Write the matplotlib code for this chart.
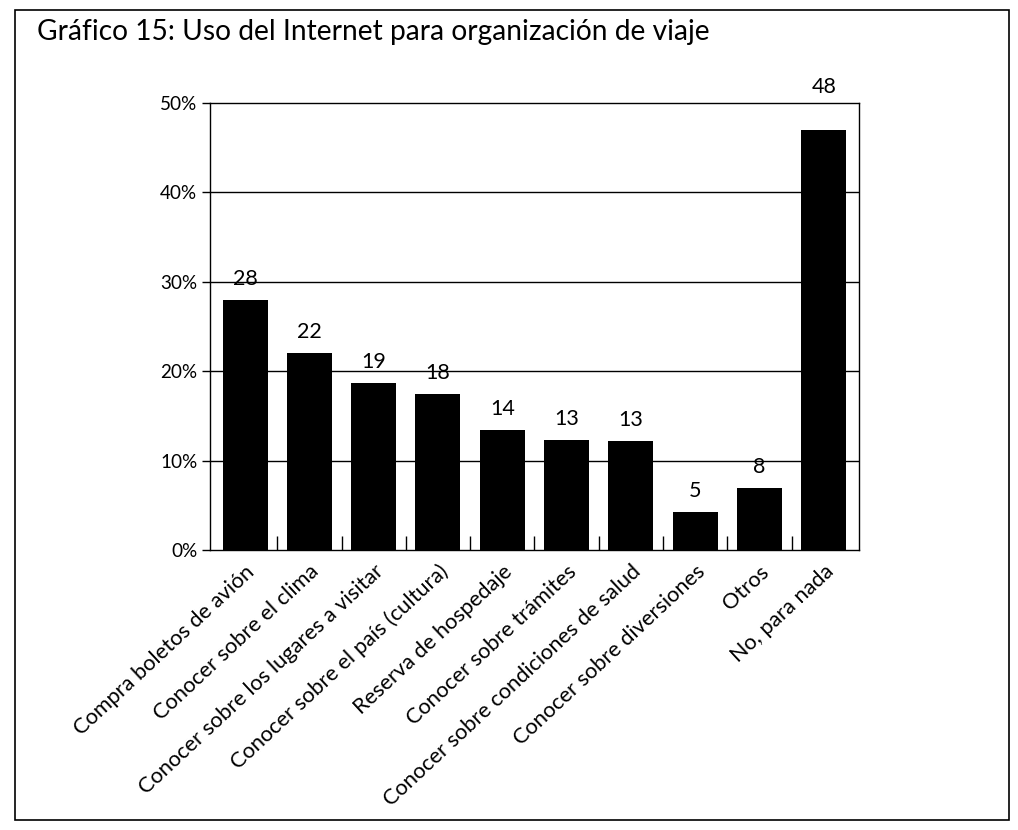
import matplotlib
matplotlib.use("Agg")
import matplotlib.pyplot as plt
from matplotlib.ticker import FixedLocator
from matplotlib.patches import Rectangle

categories = [
    "Compra boletos de avión",
    "Conocer sobre el clima",
    "Conocer sobre los lugares a visitar",
    "Conocer sobre el país (cultura)",
    "Reserva de hospedaje",
    "Conocer sobre trámites",
    "Conocer sobre condiciones de salud",
    "Conocer sobre diversiones",
    "Otros",
    "No, para nada",
]
bar_values = [28.0, 22.0, 18.7, 17.5, 13.4, 12.3, 12.2, 4.3, 7.0, 47.0]
value_labels = ["28", "22", "19", "18", "14", "13", "13", "5", "8", "48"]
y_ticks = [0, 10, 20, 30, 40, 50]
y_tick_labels = ["0%", "10%", "20%", "30%", "40%", "50%"]
title = "Gráfico 15: Uso del Internet para organización de viaje"

plt.rcParams["font.family"] = ["Lato", "DejaVu Sans"]

fig = plt.figure(figsize=(10.18, 8.30), dpi=100)
renderer = fig.canvas.get_renderer()


def fit_size(text, target_px, base=15.0):
    t = fig.text(0, 0, text, fontsize=base)
    w = t.get_window_extent(renderer).width
    t.remove()
    return base * target_px / w


cat_fs = fit_size(categories[6], 345)
title_fs = fit_size(title, 672)
tick_fs = fit_size("50%", 37)

ax = fig.add_axes([0.206, 0.337, 0.638, 0.539])

x = list(range(len(categories)))
ax.bar(x, bar_values, width=0.7, color="black", zorder=3)

ymax = y_ticks[-1]
for xi, v, lab in zip(x, bar_values, value_labels):
    if v > ymax - 6:
        # label would collide with top frame: put it above the frame
        ax.annotate(lab, (xi, ymax), xytext=(0, 4), textcoords="offset points",
                    ha="center", va="bottom", fontsize=15.5, color="black",
                    annotation_clip=False)
    else:
        ax.annotate(lab, (xi, v), xytext=(0, 8), textcoords="offset points",
                    ha="center", va="bottom", fontsize=15.5, color="black")

ax.set_ylim(0, ymax)
ax.set_xlim(-0.55, len(categories) - 0.45)
ax.set_yticks(y_ticks)
ax.set_yticklabels(y_tick_labels, fontsize=tick_fs)
ax.tick_params(axis="y", direction="out", length=6, width=1, pad=3)
for yv in y_ticks[1:-1]:
    ax.axhline(yv, color="black", linewidth=1.0, zorder=1)

ax.set_xticks(x)
ax.set_xticklabels(categories, rotation=43, ha="right", rotation_mode="anchor", fontsize=cat_fs)
ax.tick_params(axis="x", which="major", length=0, pad=8)
ax.xaxis.set_minor_locator(FixedLocator([i + 0.5 for i in x[:-1]]))
ax.tick_params(axis="x", which="minor", direction="in", length=10, width=1)

for s in ax.spines.values():
    s.set_linewidth(1.0)
    s.set_color("black")

fig.text(0.036, 0.962, title, fontsize=title_fs, ha="left", va="center", color="black")

fig.patches.append(Rectangle((0.015, 0.012), 0.976, 0.976, transform=fig.transFigure,
                             fill=False, edgecolor="black", linewidth=1.2))

fig.savefig("out.png", dpi=100, facecolor="white")
